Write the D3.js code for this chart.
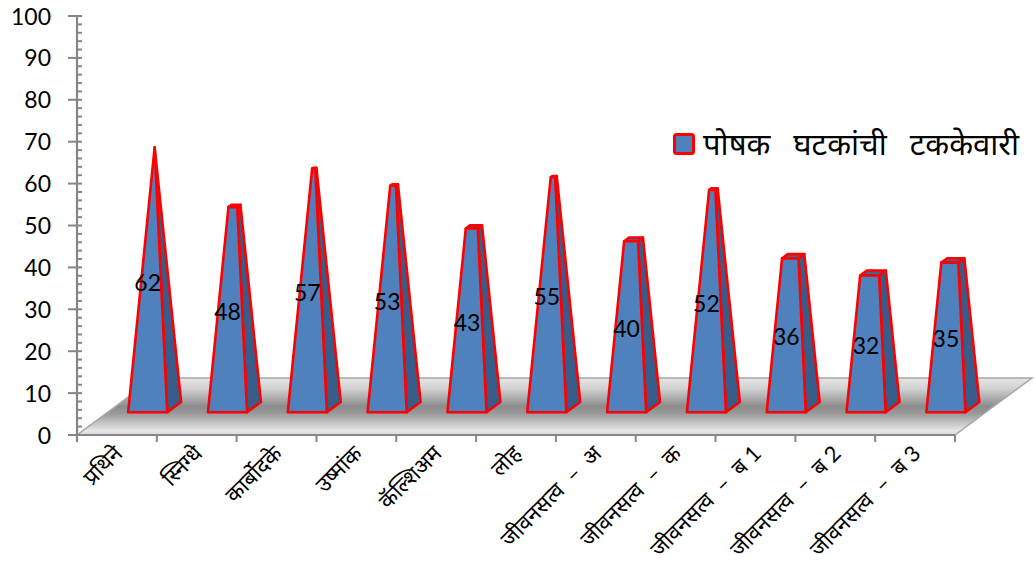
<!DOCTYPE html>
<html>
<head>
<meta charset="utf-8">
<script src="https://cdn.jsdelivr.net/npm/d3@7/dist/d3.min.js"></script>
<style>
  html, body { margin: 0; padding: 0; background: #ffffff; }
  svg { display: block; }
  text { font-family: "Lato", "Noto Sans", "DejaVu Sans", sans-serif; }
  .xlab { white-space: pre; }
</style>
</head>
<body>
<svg id="chart" width="1036" height="583"></svg>
<script>
// Nutrient share (%) per nutrient
const categories = ["प्रथिने", "स्निग्धे", "कार्बोदके", "उष्मांक", "कॅल्शिअम", "लोह",
  "जीवनसत्व  –  अ", "जीवनसत्व  –  क", "जीवनसत्व  –  ब 1", "जीवनसत्व  –  ब 2", "जीवनसत्व  –  ब 3"];
const values = [62, 48, 57, 53, 43, 55, 40, 52, 36, 32, 35];
const seriesName = "पोषक घटकांची टककेवारी";
const yTicks = [0, 10, 20, 30, 40, 50, 60, 70, 80, 90, 100];

const svg = d3.select("#chart");

// Plot frame (front edge of the floor) and the oblique depth vector
const frontLeft = 77, frontRight = 955, floorY = 435;
const depth = { dx: 77, dy: -57 };
const barDepthStart = 0.40, barDepthSize = 0.18;

const x = d3.scaleBand().domain(categories).range([frontLeft, frontRight])
  .paddingInner(0.51).paddingOuter(0.255);
const y = d3.scaleLinear().domain([0, 100]).range([floorY, 16]);

const colFront = "#4f81bd", colSide = "#385d8a", colTop = "#3f6698", colEdge = "#ff0000";
const axisGray = "#868686";

// Floor gradient
const defs = svg.append("defs");
const grad = defs.append("linearGradient").attr("id", "floorGrad")
  .attr("x1", 0).attr("y1", 0).attr("x2", 0).attr("y2", 1);
[[0, "#e6e6e6"], [0.18, "#d2d2d2"], [0.5, "#8c8c8c"], [0.62, "#999999"], [0.92, "#e6e6e6"], [1, "#dcdcdc"]]
  .forEach(([o, c]) => grad.append("stop").attr("offset", o).attr("stop-color", c));

// Floor
const floorPts = [
  [frontLeft, floorY], [frontRight, floorY],
  [frontRight + depth.dx, floorY + depth.dy], [frontLeft + depth.dx, floorY + depth.dy]
];
svg.append("path")
  .attr("d", "M" + floorPts.map(p => p.join(",")).join("L") + "Z")
  .attr("fill", "url(#floorGrad)")
  .attr("stroke", "#a6a6a6").attr("stroke-width", 1.5);

// Value axis
const yAxisG = svg.append("g");
yAxisG.append("line").attr("x1", frontLeft).attr("x2", frontLeft)
  .attr("y1", y(100)).attr("y2", floorY + 6)
  .attr("stroke", axisGray).attr("stroke-width", 2.2);
d3.range(0, 101, 2).forEach(v => {
  const major = v % 10 === 0;
  yAxisG.append("line")
    .attr("x1", major ? frontLeft - 9 : frontLeft).attr("x2", frontLeft + 5)
    .attr("y1", y(v)).attr("y2", y(v))
    .attr("stroke", axisGray).attr("stroke-width", 2);
});
yAxisG.selectAll("text.ytick").data(yTicks).join("text")
  .attr("class", "ytick")
  .attr("x", 51).attr("y", d => y(d))
  .attr("dy", "0.37em")
  .attr("text-anchor", "end")
  .attr("font-size", 23)
  .attr("fill", "#000")
  .text(d => d);

// Category axis (front edge of the floor)
svg.append("line").attr("x1", frontLeft).attr("x2", frontRight)
  .attr("y1", floorY).attr("y2", floorY)
  .attr("stroke", axisGray).attr("stroke-width", 2.2);
const step = x.step();
d3.range(categories.length + 1).forEach(k => {
  const tx = frontLeft + step * k;
  svg.append("line").attr("x1", tx).attr("x2", tx)
    .attr("y1", floorY).attr("y2", floorY + 7)
    .attr("stroke", axisGray).attr("stroke-width", 2);
});
svg.selectAll("text.xlab").data(categories).join("text")
  .attr("class", "xlab")
  .attr("text-anchor", "end")
  .attr("font-size", 22)
  .attr("fill", "#000")
  .attr("transform", d => {
    const cx = x(d) + x.bandwidth() / 2 + 7;
    return `translate(${cx},${floorY + 20}) rotate(-45)`;
  })
  .text(d => d);

// Pyramid-to-max bars
const vMax = d3.max(values);
const bdx = depth.dx * barDepthSize, bdy = depth.dy * barDepthSize;
const baseY = floorY + depth.dy * barDepthStart;
const barsG = svg.append("g");

const pts = arr => "M" + arr.map(p => p[0].toFixed(2) + "," + p[1].toFixed(2)).join("L") + "Z";

categories.forEach((c, i) => {
  const v = values[i];
  const w = x.bandwidth();
  const xl = x(c) + depth.dx * barDepthStart;
  const xr = xl + w;
  const h = y(0) - y(v);
  const s = 1 - v / vMax;
  const cx = (xl + xr) / 2 + bdx / 2, cy = baseY + bdy / 2 - h;
  const top = (sx, sd) => [cx + sx * s * w / 2 + sd * s * bdx / 2, cy + sd * s * bdy / 2];
  const FL = [xl, baseY], FR = [xr, baseY], BR = [xr + bdx, baseY + bdy];
  const tFL = top(-1, -1), tFR = top(1, -1), tBR = top(1, 1), tBL = top(-1, 1);
  const g = barsG.append("g")
    .attr("stroke", colEdge).attr("stroke-width", 2.6).attr("stroke-linejoin", "round");
  g.append("path").attr("d", pts([FR, BR, tBR, tFR])).attr("fill", colSide);
  if (s > 0.001) g.append("path").attr("d", pts([tFL, tFR, tBR, tBL])).attr("fill", colTop);
  g.append("path").attr("d", pts([FL, FR, tFR, tFL])).attr("fill", colFront);
  // value label at the middle of the bar
  svg.append("text")
    .attr("x", (xl + xr) / 2).attr("y", baseY - h / 2)
    .attr("dy", "0.37em")
    .attr("text-anchor", "middle")
    .attr("font-size", 23)
    .attr("fill", "#000")
    .text(v);
});

// Legend
const lg = svg.append("g").attr("transform", "translate(673,133)");
lg.append("rect").attr("x", 1.5).attr("y", 1.5).attr("width", 19).attr("height", 19)
  .attr("fill", colFront).attr("stroke", colEdge).attr("stroke-width", 3).attr("rx", 2);
lg.append("text").attr("x", 30).attr("y", 22)
  .attr("font-size", 31).attr("word-spacing", 15).attr("fill", "#000")
  .text(seriesName);
</script>
</body>
</html>
